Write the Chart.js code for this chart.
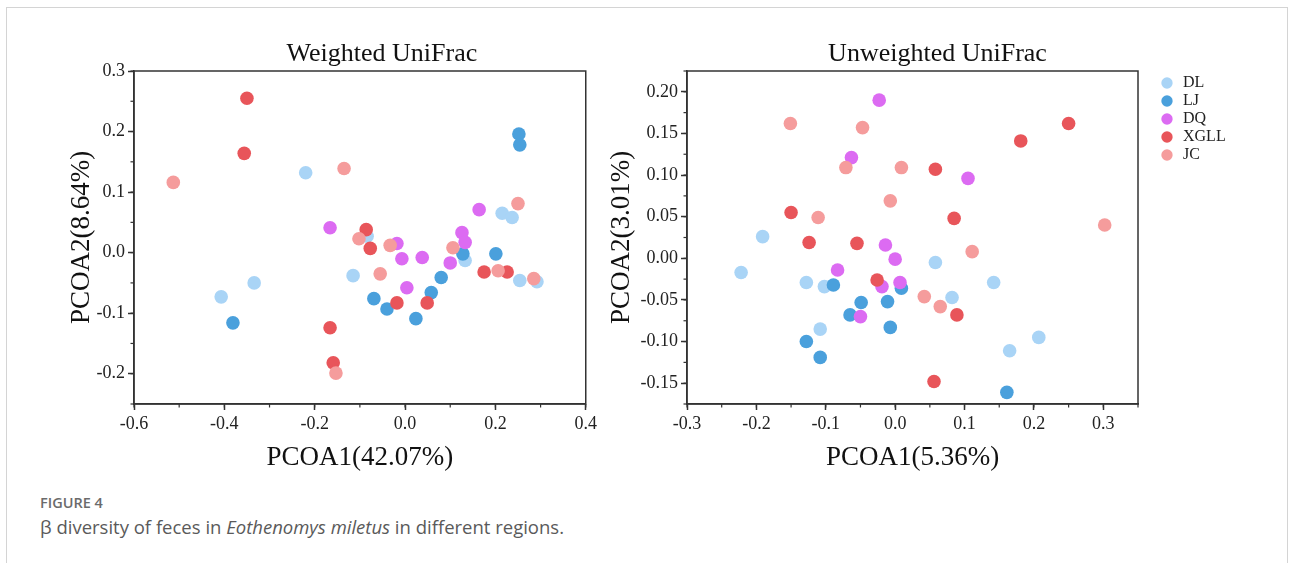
<!DOCTYPE html>
<html>
<head>
<meta charset="utf-8">
<script src="https://cdn.jsdelivr.net/npm/chart.js@4.4.1/dist/chart.umd.min.js"></script>
<style>
  body { margin: 0; width: 1293px; height: 563px; background: #fff; position: relative; overflow: hidden; }
  .card { position: absolute; left: 6px; top: 7px; width: 1280px; height: 600px; border: 1px solid #d4d4d4; }
  canvas { position: absolute; }
  #weightedCanvas { left: 60px; top: 30px; }
  #unweightedCanvas { left: 600px; top: 30px; }
  .fig-label { position: absolute; left: 40px; top: 493px; font: 600 14.5px "Open Sans", sans-serif; color: #6b6b6b; }
  .fig-caption { position: absolute; left: 40px; top: 514px; font: 18.5px "Open Sans", sans-serif; color: #5a5a5a; }
</style>
</head>
<body>
<div class="card"></div>
<canvas id="weightedCanvas" width="540" height="450"></canvas>
<canvas id="unweightedCanvas" width="693" height="450"></canvas>
<div class="fig-label">FIGURE 4</div>
<div class="fig-caption">β diversity of feces in <i>Eothenomys miletus</i> in different regions.</div>
<script>
const groups = ["DL", "LJ", "DQ", "XGLL", "JC"];
const groupColors = ["#a9d4f6", "#4aa0dc", "#dc6bf2", "#e8555a", "#f59c9c"];

// Weighted UniFrac, [PCOA1, PCOA2]
const wDL = [[-0.220, 0.132], [-0.407, -0.073], [-0.334, -0.050], [-0.115, -0.038], [-0.084, 0.027],
             [0.133, -0.013], [0.215, 0.065], [0.237, 0.058], [0.254, -0.046], [0.292, -0.048]];
const wLJ = [[-0.381, -0.116], [0.252, 0.196], [0.254, 0.178], [-0.069, -0.076], [-0.040, -0.093],
             [0.024, -0.109], [0.058, -0.066], [0.080, -0.041], [0.128, -0.002], [0.201, -0.002]];
const wDQ = [[-0.166, 0.041], [-0.018, 0.015], [-0.007, -0.010], [0.038, -0.008], [0.004, -0.058],
             [0.100, -0.017], [0.126, 0.033], [0.133, 0.017], [0.164, 0.071]];
const wXGLL = [[-0.350, 0.255], [-0.356, 0.164], [-0.166, -0.124], [-0.159, -0.182], [-0.086, 0.038],
               [-0.077, 0.007], [-0.018, -0.083], [0.049, -0.083], [0.175, -0.032], [0.226, -0.032]];
const wJC = [[-0.513, 0.116], [-0.135, 0.139], [-0.153, -0.199], [-0.102, 0.023], [-0.033, 0.012],
             [-0.055, -0.035], [0.106, 0.008], [0.206, -0.030], [0.250, 0.081], [0.285, -0.043]];

// Unweighted UniFrac, [PCOA1, PCOA2]
const uDL = [[-0.191, 0.026], [-0.222, -0.017], [-0.128, -0.029], [-0.102, -0.034], [-0.108, -0.085],
             [0.058, -0.005], [0.142, -0.029], [0.082, -0.047], [0.207, -0.095], [0.165, -0.111]];
const uLJ = [[-0.089, -0.032], [-0.049, -0.053], [-0.065, -0.068], [-0.128, -0.100], [-0.108, -0.119],
             [0.009, -0.036], [-0.011, -0.052], [-0.007, -0.083], [0.161, -0.161]];
const uDQ = [[-0.023, 0.190], [-0.063, 0.121], [0.105, 0.096], [-0.083, -0.014], [-0.014, 0.016],
             [0.000, -0.001], [-0.019, -0.034], [0.007, -0.029], [-0.050, -0.070]];
const uXGLL = [[-0.150, 0.055], [-0.124, 0.019], [-0.055, 0.018], [0.058, 0.107], [0.181, 0.141],
               [0.250, 0.162], [0.085, 0.048], [-0.026, -0.026], [0.089, -0.068], [0.056, -0.148]];
const uJC = [[-0.151, 0.162], [-0.047, 0.157], [-0.071, 0.109], [-0.111, 0.049], [0.009, 0.109],
             [-0.007, 0.069], [0.302, 0.040], [0.111, 0.008], [0.042, -0.046], [0.065, -0.058]];

const wXTicks = [-0.6, -0.4, -0.2, 0.0, 0.2, 0.4];
const wYTicks = [-0.2, -0.1, 0.0, 0.1, 0.2, 0.3];
const uXTicks = [-0.3, -0.2, -0.1, 0.0, 0.1, 0.2, 0.3];
const uYTicks = [-0.15, -0.10, -0.05, 0.00, 0.05, 0.10, 0.15, 0.20];

const serif = '"Liberation Serif", "Times New Roman", serif';
const ink = "#222";

function makeDatasets(sets) {
  return sets.map((pts, i) => ({
    label: groups[i],
    data: pts.map(p => ({ x: p[0], y: p[1] })),
    backgroundColor: groupColors[i],
    borderWidth: 0,
    pointRadius: 6.8,
    pointHoverRadius: 6.8,
    order: sets.length - i   // later groups sit on top
  }));
}

// minor ticks, box frame and the panel heading
const panelDecor = {
  id: "panelDecor",
  afterDraw(chart, args, opts) {
    const { ctx, chartArea: a } = chart;
    ctx.save();
    ctx.strokeStyle = "#333";
    ctx.lineWidth = 1.2;
    for (const id of ["x", "y"]) {
      const s = chart.scales[id];
      const step = opts.minor[id];
      for (let k = Math.ceil(s.min / step - 1e-9); k * step <= s.max + 1e-9; k++) {
        const p = s.getPixelForValue(k * step);
        ctx.beginPath();
        if (id === "x") { ctx.moveTo(p, a.bottom); ctx.lineTo(p, a.bottom + 3.5); }
        else { ctx.moveTo(a.left, p); ctx.lineTo(a.left - 3.5, p); }
        ctx.stroke();
      }
    }
    ctx.lineWidth = 1.5;
    ctx.strokeRect(a.left, a.top, a.right - a.left, a.bottom - a.top);

    ctx.fillStyle = "#111";
    ctx.font = "26px " + serif;
    ctx.textAlign = "center";
    ctx.textBaseline = "alphabetic";
    ctx.fillText(opts.title, (a.left + a.right) / 2 + opts.titleShift, 31);
    ctx.restore();
  }
};

// fixed legend column to the right of the plot
const legendSlot = {
  id: "legendSlot",
  beforeLayout(chart) {
    const l = chart.legend;
    if (l && !l._fixedWidth) {
      const fit = l.fit;
      l.fit = function () { fit.call(this); this.width = 155; };
      l._fixedWidth = true;
    }
  },
  afterLayout(chart) {
    const l = chart.legend;
    l.left += 19; l.right += 19;
    l.top += 2; l.bottom += 2;
  }
};

function axis(ticks, digits, min, max, title, size, titlePad) {
  return {
    type: "linear",
    min: min,
    max: max,
    afterBuildTicks: s => { s.ticks = ticks.map(v => ({ value: v })); },
    afterFit: size,
    ticks: {
      color: ink,
      padding: 3,
      font: { family: serif, size: 18 },
      callback: v => Number(v).toFixed(digits)
    },
    grid: {
      display: true,
      drawOnChartArea: false,
      drawTicks: true,
      tickLength: 6,
      tickColor: "#333",
      tickWidth: 1.5
    },
    border: { display: true, color: "#333", width: 1.5 },
    title: {
      display: true,
      text: title,
      color: "#111",
      font: { family: serif, size: 27 },
      padding: titlePad
    }
  };
}

const weightedChart = new Chart(document.getElementById("weightedCanvas"), {
  type: "scatter",
  data: { datasets: makeDatasets([wDL, wLJ, wDQ, wXGLL, wJC]) },
  plugins: [panelDecor],
  options: {
    responsive: false,
    animation: false,
    layout: { padding: { top: 41, right: 14, left: 0, bottom: 0 } },
    scales: {
      x: axis(wXTicks, 1, -0.6, 0.4, "PCOA1(42.07%)", s => { s.height = 76; }, { top: 0, bottom: 6 }),
      y: axis(wYTicks, 1, -0.25, 0.3, "PCOA2(8.64%)", s => { s.width = 74; }, { top: 6, bottom: 0 })
    },
    plugins: {
      legend: { display: false },
      tooltip: { enabled: false },
      panelDecor: { title: "Weighted UniFrac", titleShift: 22, minor: { x: 0.1, y: 0.05 } }
    }
  }
});

const unweightedChart = new Chart(document.getElementById("unweightedCanvas"), {
  type: "scatter",
  data: { datasets: makeDatasets([uDL, uLJ, uDQ, uXGLL, uJC]) },
  plugins: [panelDecor, legendSlot],
  options: {
    responsive: false,
    animation: false,
    layout: { padding: { top: 41, right: 0, left: 0, bottom: 0 } },
    scales: {
      x: axis(uXTicks, 1, -0.3, 0.35, "PCOA1(5.36%)", s => { s.height = 76; }, { top: 0, bottom: 6 }),
      y: axis(uYTicks, 2, -0.175, 0.225, "PCOA2(3.01%)", s => { s.width = 87; }, { top: 6, bottom: 0 })
    },
    plugins: {
      legend: {
        display: true,
        position: "right",
        align: "start",
        labels: {
          usePointStyle: true,
          pointStyle: "circle",
          boxWidth: 16,
          boxHeight: 8,
          padding: 2,
          color: ink,
          font: { family: serif, size: 16 },
          sort: (a, b) => a.datasetIndex - b.datasetIndex
        }
      },
      tooltip: { enabled: false },
      panelDecor: { title: "Unweighted UniFrac", titleShift: 25, minor: { x: 0.05, y: 0.025 } }
    }
  }
});
</script>
</body>
</html>
